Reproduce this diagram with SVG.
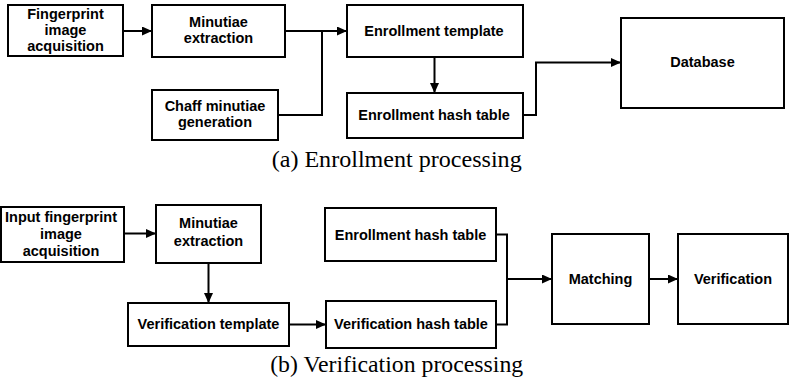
<svg xmlns="http://www.w3.org/2000/svg" width="789" height="381" viewBox="0 0 789 381">
  <style>
    .box { fill: #ffffff; stroke: #000000; stroke-width: 2; }
    .lbl { font-family: "Liberation Sans", Arial, sans-serif; font-weight: bold; font-size: 14.5px; fill: #000000; text-anchor: middle; }
    .cap { font-family: "Liberation Serif", "Times New Roman", serif; font-size: 24px; fill: #000000; text-anchor: middle; }
    .wire { fill: none; stroke: #000000; stroke-width: 2; }
  </style>
  <defs>
    <marker id="arrow" markerUnits="userSpaceOnUse" markerWidth="10" markerHeight="10" refX="10" refY="4.5" orient="auto">
      <path d="M0,0 L10,4.5 L0,9 z" fill="#000000"/>
    </marker>
  </defs>
  <rect width="789" height="381" fill="#ffffff"/>

  <!-- (a) enrollment stage -->
  <g id="fingerprint-acquisition">
    <rect class="box" x="8" y="5" width="115" height="51"/>
    <text class="lbl" x="65.5" y="18.5">Fingerprint</text>
    <text class="lbl" x="65.5" y="34.5">image</text>
    <text class="lbl" x="65.5" y="50.5">acquisition</text>
  </g>
  <g id="minutiae-extraction-a">
    <rect class="box" x="152" y="5" width="133" height="52"/>
    <text class="lbl" x="218.5" y="26.5">Minutiae</text>
    <text class="lbl" x="218.5" y="42.5">extraction</text>
  </g>
  <g id="chaff-generation">
    <rect class="box" x="152" y="90" width="126" height="50"/>
    <text class="lbl" x="215" y="111">Chaff minutiae</text>
    <text class="lbl" x="215" y="126.5">generation</text>
  </g>
  <g id="enrollment-template">
    <rect class="box" x="347" y="5" width="176" height="52"/>
    <text class="lbl" x="434" y="36">Enrollment template</text>
  </g>
  <g id="enrollment-hash-a">
    <rect class="box" x="347" y="93" width="176" height="45"/>
    <text class="lbl" x="434" y="120">Enrollment hash table</text>
  </g>
  <g id="database">
    <rect class="box" x="621" y="18" width="163" height="90"/>
    <text class="lbl" x="702.5" y="67">Database</text>
  </g>

  <!-- (b) verification stage -->
  <g id="input-acquisition">
    <rect class="box" x="1" y="207" width="123" height="55"/>
    <text class="lbl" x="61" y="222">Input fingerprint</text>
    <text class="lbl" x="61" y="239">image</text>
    <text class="lbl" x="61" y="256">acquisition</text>
  </g>
  <g id="minutiae-extraction-b">
    <rect class="box" x="156" y="205" width="105" height="58"/>
    <text class="lbl" x="208.5" y="227.5">Minutiae</text>
    <text class="lbl" x="208.5" y="246">extraction</text>
  </g>
  <g id="verification-template">
    <rect class="box" x="128" y="303" width="161" height="43"/>
    <text class="lbl" x="208.5" y="329">Verification template</text>
  </g>
  <g id="enrollment-hash-b">
    <rect class="box" x="325" y="208" width="171" height="53"/>
    <text class="lbl" x="410.5" y="239.5">Enrollment hash table</text>
  </g>
  <g id="verification-hash">
    <rect class="box" x="326" y="301" width="170" height="47"/>
    <text class="lbl" x="411" y="329">Verification hash table</text>
  </g>
  <g id="matching">
    <rect class="box" x="552" y="234" width="97" height="90"/>
    <text class="lbl" x="600.5" y="284">Matching</text>
  </g>
  <g id="verification">
    <rect class="box" x="678" y="234" width="110" height="90"/>
    <text class="lbl" x="733" y="284">Verification</text>
  </g>

  <g id="connectors">
    <path class="wire" d="M123,31 H152" marker-end="url(#arrow)"/>
    <path class="wire" d="M285,31 H347" marker-end="url(#arrow)"/>
    <path class="wire" d="M278,115 H322 V31"/>
    <path class="wire" d="M434.5,57 V93" marker-end="url(#arrow)"/>
    <path class="wire" d="M523,115 H536 V62.5 H621" marker-end="url(#arrow)"/>

    <path class="wire" d="M124,233.5 H156" marker-end="url(#arrow)"/>
    <path class="wire" d="M208.5,263 V303" marker-end="url(#arrow)"/>
    <path class="wire" d="M289,324.5 H326" marker-end="url(#arrow)"/>
    <path class="wire" d="M496,234.5 H507 V324.5 H496"/>
    <path class="wire" d="M507,279 H552" marker-end="url(#arrow)"/>
    <path class="wire" d="M649,279 H678" marker-end="url(#arrow)"/>
  </g>

  <text class="cap" x="396.7" y="167" textLength="250" lengthAdjust="spacingAndGlyphs">(a) Enrollment processing</text>
  <text class="cap" x="396.7" y="372" textLength="253" lengthAdjust="spacingAndGlyphs">(b) Verification processing</text>
</svg>
